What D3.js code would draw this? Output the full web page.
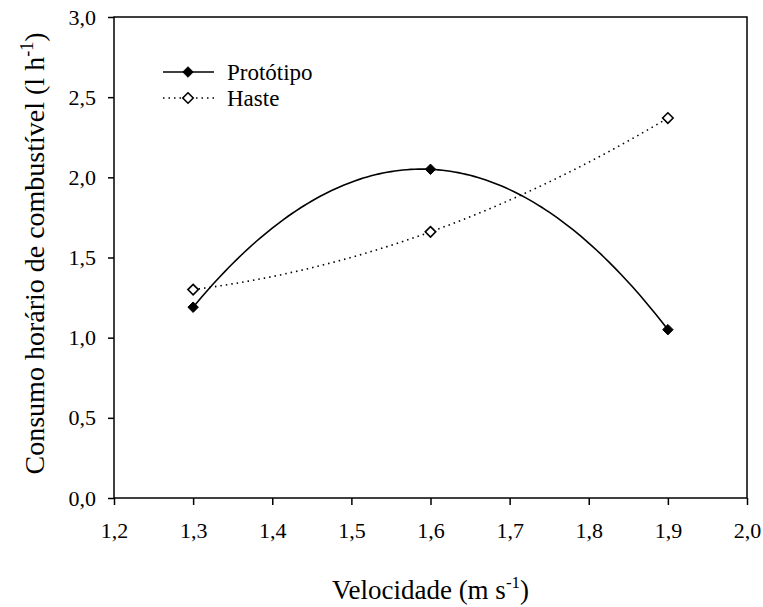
<!DOCTYPE html>
<html lang="pt">
<head>
<meta charset="utf-8">
<style>
  body { margin: 0; background: #fff; }
</style>
</head>
<body>
<div id="chart"></div>
<script src="https://d3js.org/d3.v7.min.js"></script>
<script>
// dados
const velocidade = [1.3, 1.6, 1.9];
const prototipo = [1.19, 2.05, 1.05];
const haste = [1.30, 1.66, 2.37];
const xTicks = [1.2, 1.3, 1.4, 1.5, 1.6, 1.7, 1.8, 1.9, 2.0];
const yTicks = [0, 0.5, 1.0, 1.5, 2.0, 2.5, 3.0];
const seriesNames = ['Protótipo', 'Haste'];

const W = 763, H = 607;
const m = { left: 114, right: 16, top: 17, bottom: 109 };
const FONT = "'Liberation Serif', 'Times New Roman', 'DejaVu Serif', serif";

const svg = d3.select('#chart').append('svg')
    .attr('width', W).attr('height', H)
    .style('font-family', FONT);

const x = d3.scaleLinear().domain([1.2, 2.0]).range([m.left, W - m.right]);
const y = d3.scaleLinear().domain([0, 3.0]).range([H - m.bottom, m.top]);
const fmt = d => d3.format('.1f')(d).replace('.', ',');

// eixos
const gx = svg.append('g')
    .attr('transform', `translate(0,${H - m.bottom})`)
    .call(d3.axisBottom(x).tickValues(xTicks).tickFormat(fmt).tickSize(7).tickPadding(17));
const gy = svg.append('g')
    .attr('transform', `translate(${m.left},0)`)
    .call(d3.axisLeft(y).tickValues(yTicks).tickFormat(fmt).tickSize(6).tickPadding(12));
[gx, gy].forEach(g => {
    g.attr('font-family', null).attr('font-size', null);
    g.select('.domain').remove();
    g.selectAll('line').attr('stroke', '#000').attr('stroke-width', 1.5);
    g.selectAll('text').style('font-family', FONT).style('font-size', '22px').attr('fill', '#000');
});

// moldura
svg.append('rect')
    .attr('x', x(1.2)).attr('y', y(3.0))
    .attr('width', x(2.0) - x(1.2)).attr('height', y(0) - y(3.0))
    .attr('fill', 'none').attr('stroke', '#000').attr('stroke-width', 1.5);

// curva de ajuste quadratica que passa pelos tres pontos
function quad(xs, ys) {
    return t => ys.reduce((s, yi, i) => {
        let p = yi;
        xs.forEach((xj, j) => { if (j !== i) p *= (t - xj) / (xs[i] - xj); });
        return s + p;
    }, 0);
}
const line = d3.line().x(d => x(d[0])).y(d => y(d[1]));
const samples = d3.range(velocidade[0], velocidade[2] + 0.0001, 0.005);

const fP = quad(velocidade, prototipo);
svg.append('path')
    .attr('d', line(samples.map(t => [t, fP(t)])))
    .attr('fill', 'none').attr('stroke', '#000').attr('stroke-width', 1.6);

const fH = quad(velocidade, haste);
svg.append('path')
    .attr('d', line(samples.map(t => [t, fH(t)])))
    .attr('fill', 'none').attr('stroke', '#000').attr('stroke-width', 1.6)
    .attr('stroke-dasharray', '1.5,4');

const diamond = d3.symbol().type(d3.symbolDiamond2).size(70);

svg.selectAll('.pHaste')
    .data(velocidade)
    .enter().append('path')
    .attr('d', diamond)
    .attr('transform', (d, i) => `translate(${x(d)},${y(haste[i])})`)
    .attr('fill', '#fff').attr('stroke', '#000').attr('stroke-width', 1.6);

svg.selectAll('.pProt')
    .data(velocidade)
    .enter().append('path')
    .attr('d', diamond)
    .attr('transform', (d, i) => `translate(${x(d)},${y(prototipo[i])})`)
    .attr('fill', '#000').attr('stroke', '#000').attr('stroke-width', 1);

// legenda
const leg = svg.append('g').attr('transform', 'translate(163,72)');
leg.append('line').attr('x1', 0).attr('x2', 51).attr('y1', 0).attr('y2', 0)
    .attr('stroke', '#000').attr('stroke-width', 1.6);
leg.append('path').attr('d', diamond).attr('transform', 'translate(25,0)')
    .attr('fill', '#000').attr('stroke', '#000');
leg.append('line').attr('x1', 0).attr('x2', 51).attr('y1', 26).attr('y2', 26)
    .attr('stroke', '#000').attr('stroke-width', 1.6).attr('stroke-dasharray', '1.5,4');
leg.append('path').attr('d', diamond).attr('transform', 'translate(25,26)')
    .attr('fill', '#fff').attr('stroke', '#000').attr('stroke-width', 1.6);
leg.selectAll('.lt')
    .data(seriesNames)
    .enter().append('text')
    .attr('x', 64).attr('y', (d, i) => i * 26 + 8)
    .style('font-size', '23px')
    .text(d => d);

// titulos
const xt = svg.append('text')
    .attr('x', (x(1.2) + x(2.0)) / 2).attr('y', 599)
    .attr('text-anchor', 'middle').style('font-size', '27px');
xt.append('tspan').text('Velocidade (m s');
xt.append('tspan').attr('dy', -11).style('font-size', '17px').text('-1');
xt.append('tspan').attr('dy', 11).text(')');

const yt = svg.append('text')
    .attr('transform', `translate(44,${(y(0) + y(3.0)) / 2 - 4}) rotate(-90)`)
    .attr('text-anchor', 'middle').style('font-size', '28px');
yt.append('tspan').text('Consumo horário de combustível (l h');
yt.append('tspan').attr('dy', -11).style('font-size', '18px').text('-1');
yt.append('tspan').attr('dy', 11).text(')');
</script>
</body>
</html>
